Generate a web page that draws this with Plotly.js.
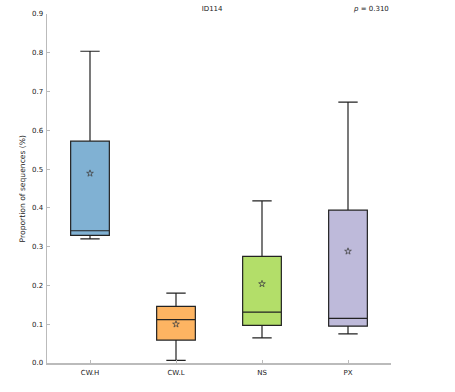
<!DOCTYPE html>
<html>
<head>
<meta charset="utf-8">
<script src="https://cdn.plot.ly/plotly-3.0.1.min.js"></script>
<style>html,body{margin:0;padding:0;background:#fff;}#chart{width:455px;height:392px;}</style>
</head>
<body>
<div id="chart"></div>
<script>
var categories = ["CW.H", "CW.L", "NS", "PX"];
var lowerWhisker = [0.320, 0.007, 0.065, 0.075];
var q1Values = [0.329, 0.059, 0.097, 0.095];
var medianValues = [0.341, 0.112, 0.131, 0.115];
var q3Values = [0.572, 0.146, 0.275, 0.394];
var upperWhisker = [0.804, 0.180, 0.418, 0.673];
var meanValues = [0.489, 0.100, 0.204, 0.288];
var boxColors = ["#80b1d3", "#fdb462", "#b3de69", "#bebada"];
var yTicks = [0.0, 0.1, 0.2, 0.3, 0.4, 0.5, 0.6, 0.7, 0.8, 0.9];
var titleText = "ID114";
var pText = "<i>p</i> = 0.310";
var yTitleText = "Proportion of sequences (%)";

var traces = [];
for (var i = 0; i < categories.length; i++) {
  traces.push({
    type: "box",
    x: [categories[i]],
    q1: [q1Values[i]],
    median: [medianValues[i]],
    q3: [q3Values[i]],
    lowerfence: [lowerWhisker[i]],
    upperfence: [upperWhisker[i]],
    fillcolor: boxColors[i],
    line: {color: "#222222", width: 1.2},
    width: 0.45,
    whiskerwidth: 0.5,
    boxpoints: false,
    hoverinfo: "skip",
    showlegend: false
  });
}
traces.push({
  type: "scatter",
  mode: "markers",
  x: categories,
  y: meanValues,
  marker: {symbol: "star-open", size: 5, color: "#444444", line: {width: 0.8, color: "#444444"}},
  hoverinfo: "skip",
  showlegend: false
});

var layout = {
  width: 455,
  height: 392,
  margin: {l: 47, r: 64, t: 14, b: 29},
  paper_bgcolor: "#ffffff",
  plot_bgcolor: "#ffffff",
  font: {family: "DejaVu Sans, sans-serif", size: 7, color: "#222222"},
  xaxis: {
    type: "category",
    categoryarray: categories,
    range: [-0.5, 3.5],
    showgrid: false,
    zeroline: false,
    showline: true,
    linecolor: "#bbbbbb",
    linewidth: 1.5,
    ticks: "inside",
    ticklen: 3,
    tickcolor: "#bbbbbb",
    ticklabelstandoff: 2,
    tickfont: {size: 7, color: "#222222"}
  },
  yaxis: {
    range: [0, 0.9],
    tickvals: yTicks,
    tickformat: ".1f",
    showgrid: false,
    zeroline: false,
    showline: true,
    linecolor: "#bbbbbb",
    linewidth: 1.5,
    ticks: "inside",
    ticklen: 3,
    tickcolor: "#bbbbbb",
    ticklabelstandoff: 1,
    tickfont: {size: 7, color: "#222222"}
  },
  title: {text: titleText, font: {size: 7, color: "#222222"}, x: 0.48, xref: "paper", y: 0.985, yref: "container", yanchor: "top"},
  annotations: [{
    text: pText, xref: "paper", yref: "paper", x: 1.0, y: 1.014, xanchor: "right", yanchor: "middle",
    showarrow: false, font: {size: 7, color: "#222222"}
  }, {
    text: yTitleText, xref: "paper", yref: "paper", x: -0.07, y: 0.5, xanchor: "center", yanchor: "middle",
    textangle: -90, showarrow: false, font: {size: 7.6, color: "#222222"}
  }]
};

Plotly.newPlot("chart", traces, layout, {displayModeBar: false, staticPlot: true});
</script>
</body>
</html>
